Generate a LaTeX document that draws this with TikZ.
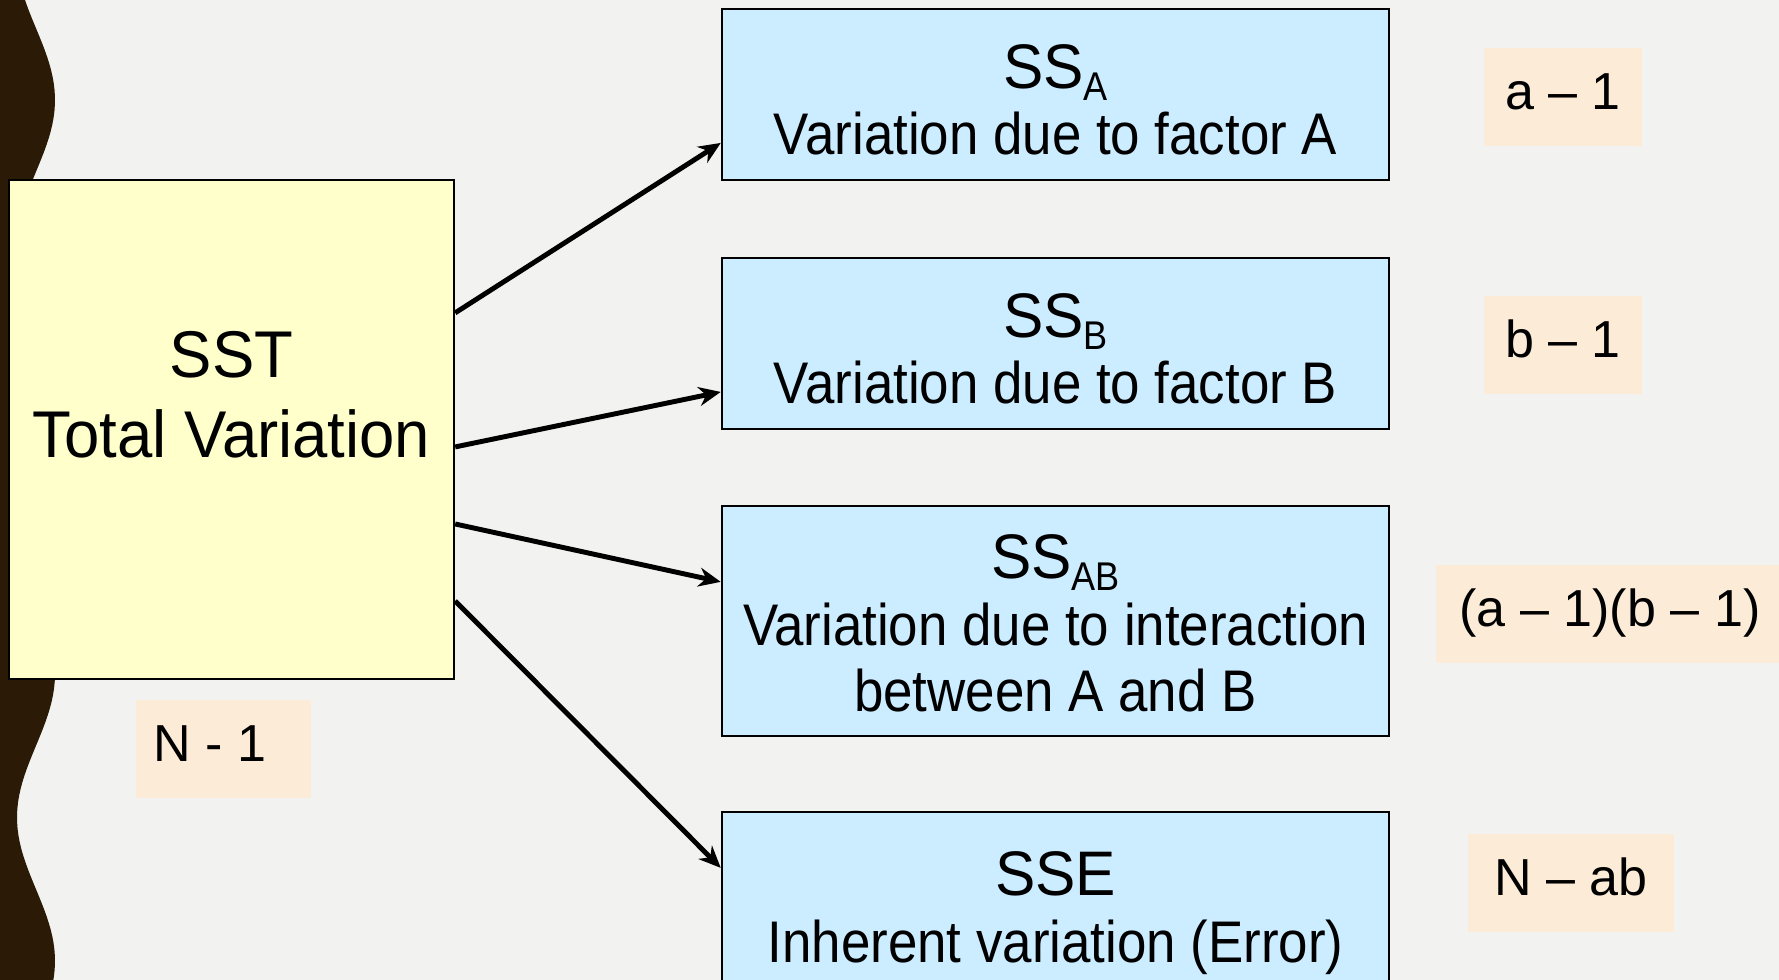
\documentclass[tikz,border=0pt]{standalone}
\usepackage{fontspec}
\setmainfont{Liberation Sans}[FakeStretch=0.9]
\newfontfamily\wideSans{Liberation Sans}[FakeStretch=0.96]
\newfontfamily\plainSans{Liberation Sans}
\usepackage{tikz}
\usetikzlibrary{arrows.meta, positioning, calc}

\definecolor{bgGray}{RGB}{242,242,240}
\definecolor{barkBrown}{RGB}{43,27,6}
\definecolor{sstYellow}{RGB}{255,255,204}
\definecolor{ssBlue}{RGB}{204,236,255}
\definecolor{dfPeach}{RGB}{251,235,215}

\newcommand{\bigSS}[1]{{\wideSans\fontsize{17.9}{19}\selectfont SS}\raisebox{-0.12cm}{\fontsize{11.4}{12}\selectfont #1}}

\begin{document}
\begin{tikzpicture}[x=0.01cm,y=-0.01cm,>={Stealth[length=0.22cm,width=0.19cm]},
  total/.style={draw=black,line width=0.6pt,fill=sstYellow,inner sep=0pt,anchor=base,
    align=center,minimum width=4.45cm,font=\wideSans\fontsize{18.8}{22.8}\selectfont},
  part/.style={draw=black,line width=0.6pt,fill=ssBlue,inner sep=0pt,anchor=base,
    align=center,minimum width=6.67cm,font=\fontsize{16.7}{19}\selectfont},
  dof/.style={fill=dfPeach,inner sep=0pt,anchor=base,text height=0.62cm,text depth=0.36cm,
    font=\plainSans\fontsize{14.8}{16}\selectfont},
  link/.style={->,line width=1.4pt}]
  \useasboundingbox (0,0) rectangle (1779,980);
  \clip (0,0) rectangle (1779,980);
  \fill[bgGray] (0,0) rectangle (1779,980);
  \fill[barkBrown] (0,-10) -- plot[domain=-10:990,samples=150,variable=\t]
    ({36+19*cos(1.2544*(\t-100))},{\t}) -- (0,990) -- cycle;

  \node[total,text height=2.78cm,text depth=2.21cm] (sst) at (231.5,458) {SST\\Total Variation};
  \node[part,text height=1.46cm,text depth=0.25cm] (ssA) at (1055.5,155)
    {\bigSS{A}\\Variation due to factor A};
  \node[part,text height=1.46cm,text depth=0.25cm] (ssB) at (1055.5,404)
    {\bigSS{B}\\Variation due to factor B};
  \node[part,text height=2.06cm,text depth=0.24cm] (ssAB) at (1055.5,712)
    {\bigSS{AB}\\Variation due to interaction\\between A and B};
  \node[part,text height=1.50cm,text depth=0.88cm] (sse) at (1055.5,962)
    {{\wideSans\fontsize{17.9}{19}\selectfont SSE}\\Inherent variation (Error)};

  \node[dof,minimum width=1.58cm] (dfA) at (1563,110) {a – 1};
  \node[dof,minimum width=1.58cm] (dfB) at (1563,358) {b – 1};
  \node[dof,minimum width=3.48cm] (dfAB) at (1610,627) {(a – 1)(b – 1)};
  \node[dof,minimum width=2.06cm] (dfE) at (1571,896) {N – ab};
  \node[dof,minimum width=1.75cm] (dfT) at (223.5,762) {N - 1\kern0.27cm};

  \draw[link] ([yshift=-1.34cm]sst.north east) -- ([yshift=-1.35cm]ssA.north west);
  \draw[link] ([yshift=-2.68cm]sst.north east) -- ([yshift=-1.35cm]ssB.north west);
  \draw[link] ([yshift=-3.45cm]sst.north east) -- ([yshift=-0.77cm]ssAB.north west);
  \draw[link] ([yshift=-4.22cm]sst.north east) -- ([yshift=-0.57cm]sse.north west);
\end{tikzpicture}
\end{document}
